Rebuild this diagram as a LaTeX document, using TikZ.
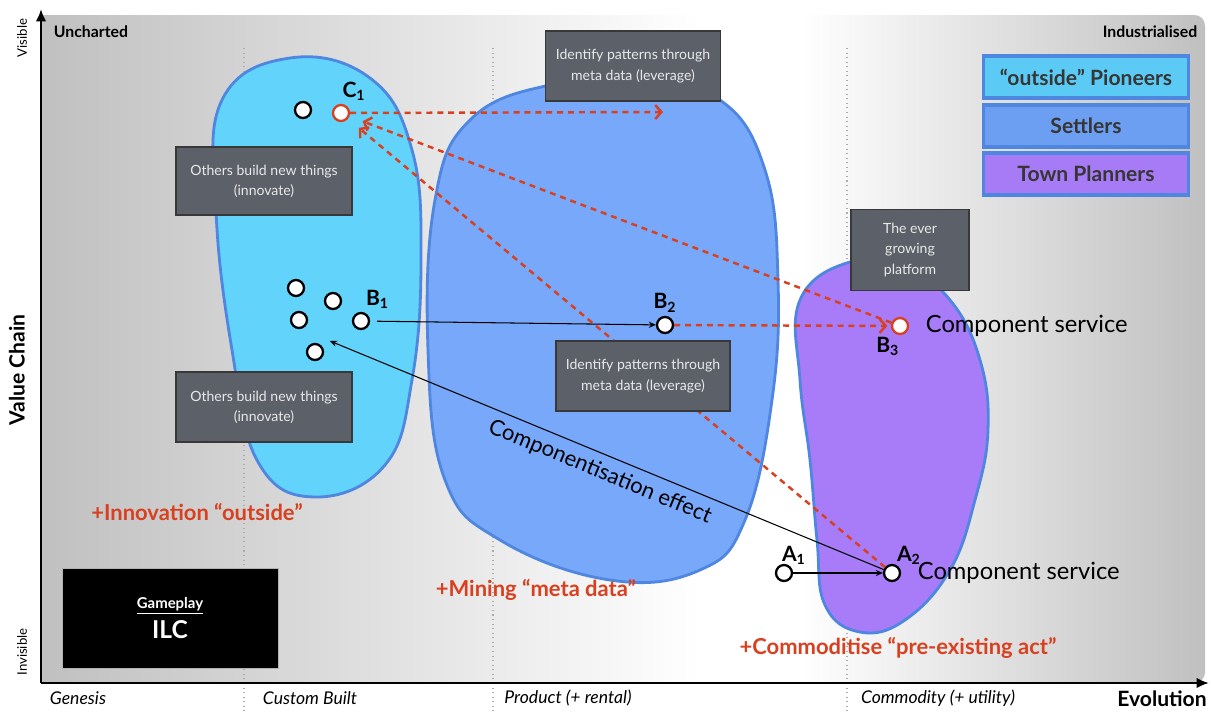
\documentclass[tikz,border=0pt]{standalone}
\usepackage{fontspec}
\setmainfont{Lato}
\usepackage{tikz}
\usetikzlibrary{arrows.meta, positioning, shapes.geometric}
\definecolor{pioneercyan}{HTML}{62D3FA}
\definecolor{settlerblue}{HTML}{78A8FA}
\definecolor{plannerpurple}{HTML}{A87CF8}
\definecolor{legcyan}{HTML}{5BCBF5}
\definecolor{legblue}{HTML}{6C9EF2}
\definecolor{legpurple}{HTML}{A77BF5}
\definecolor{blobedge}{HTML}{4F86E0}
\definecolor{notegray}{HTML}{5C6068}
\definecolor{noteedge}{HTML}{383838}
\definecolor{notetext}{HTML}{E8E8E8}
\definecolor{mapred}{HTML}{D8401F}
\definecolor{bggray}{HTML}{C0C0C0}
\definecolor{legendtext}{HTML}{363636}

\begin{document}
\begin{tikzpicture}[
  x=0.02cm, y=-0.02cm,
  blob/.style={draw=blobedge, line width=1.6pt},
  note/.style={rectangle, draw=noteedge, fill=notegray, text=notetext, line width=0.8pt, align=center, font=\fontsize{8}{11.5}\selectfont},
  legend/.style={rectangle, draw=blobedge, line width=1.8pt, text=legendtext, minimum width=4.1cm, minimum height=0.84cm, font=\fontsize{12}{14}\selectfont\bfseries},
  pt/.style={circle, draw=black, fill=white, line width=1.3pt, minimum size=0.32cm, inner sep=0pt},
  redpt/.style={pt, draw=mapred},
  ptlabel/.style={inner sep=1pt, font=\fontsize{12}{14}\selectfont\bfseries},
  service/.style={font=\fontsize{13.5}{15}\selectfont},
  redtext/.style={text=mapred, font=\fontsize{12.5}{14}\selectfont\bfseries},
  stagelabel/.style={font=\fontsize{10}{12}\selectfont\itshape},
  flow/.style={->, >={Stealth[length=4pt, width=3.5pt]}, line width=0.6pt},
  reddash/.style={->, >={Straight Barb[length=3.5pt, width=8pt]}, draw=mapred, line width=1.4pt, dash pattern=on 3.4pt off 2.8pt}
]
\useasboundingbox (0,0) rectangle (1211,711);

% map background
\shade[left color=bggray, right color=white] (41,15) rectangle (700,683);
\fill[white] (699,15) rectangle (801,683);
\shade[left color=white, right color=bggray, rounded corners=6pt] (800,15) rectangle (1205,683);

% stage separators
\foreach \xs in {244,493,847}
  \draw[gray!65, dotted, line width=0.6pt] (\xs,48) -- (\xs,711);

% axes
\draw[line width=1.6pt, -{Latex[length=7pt, width=6pt]}] (41,683) -- (41,9);
\draw[line width=1.6pt, -{Latex[length=7pt, width=6pt]}] (41,683) -- (1209,683);
\node[rotate=90, font=\fontsize{7.5}{9}\selectfont] (visible) at (22,38) {Visible};
\node[rotate=90, font=\fontsize{7.5}{9}\selectfont] (invisible) at (22,652) {Invisible};
\node[rotate=90, font=\fontsize{12}{14}\selectfont\bfseries] (chain) at (17,370) {Value Chain};
\node[font=\fontsize{9}{10}\selectfont\bfseries] (uncharted) at (91,32) {Uncharted};
\node[font=\fontsize{9}{10}\selectfont\bfseries] (industrial) at (1150,32) {Industrialised};
\node[stagelabel] (genesis) at (78,698) {Genesis};
\node[stagelabel] (custom) at (310,698) {Custom Built};
\node[stagelabel] (product) at (568,698) {Product (+ rental)};
\node[stagelabel] (commodity) at (938,698) {Commodity (+ utility)};
\node[font=\fontsize{12}{14}\selectfont\bfseries] (evolution) at (1162,699) {Evolution};

% pioneers, settlers, town planners
\draw[blob, fill=pioneercyan] plot[smooth cycle, tension=0.7] coordinates
  {(290,58) (370,78) (412,150) (421,260) (412,380) (385,465) (315,497) (258,462) (232,350) (216,210) (222,100)};
\draw[blob, fill=settlerblue] plot[smooth cycle, tension=0.7] coordinates
  {(550,85) (640,82) (720,100) (765,170) (778,280) (772,400) (745,520) (700,570) (610,580) (500,540) (445,480) (428,350) (435,200) (470,120)};
\draw[blob, fill=plannerpurple] plot[smooth cycle, tension=0.7] coordinates
  {(850,262) (905,268) (950,300) (980,360) (988,430) (975,500) (950,570) (905,620) (860,632) (825,605) (817,540) (810,460) (800,380) (800,300)};

% legend
\node[legend, fill=legcyan] (pioneers) at (1086,77) {“outside” Pioneers};
\node[legend, fill=legblue] (settlers) at (1086,126) {Settlers};
\node[legend, fill=legpurple] (planners) at (1086,174) {Town Planners};

% components
\node[pt] (c0) at (303,110) {};
\node[redpt] (c1) at (341,113) {};
\node[pt] (b1a) at (296,288) {};
\node[pt] (b1b) at (333,301) {};
\node[pt] (b1c) at (299,320) {};
\node[pt] (b1d) at (315,352) {};
\node[pt] (b1) at (361,321) {};
\node[pt] (b2) at (665,325) {};
\node[redpt] (b3) at (900,326) {};
\node[pt] (a1) at (784,573) {};
\node[pt] (a2) at (892,573) {};
\coordinate (cmpend) at (330,341);
\coordinate (c1end) at (663,112);

\node[ptlabel, above right=2pt and -4pt of c1] (c1lbl) {C\textsubscript{1}};
\node[ptlabel, above right=2pt and -2pt of b1] (b1lbl) {B\textsubscript{1}};
\node[ptlabel, above=1pt of b2] (b2lbl) {B\textsubscript{2}};
\node[ptlabel, below=0pt of b3, xshift=-7pt] (b3lbl) {B\textsubscript{3}};
\node[ptlabel, above right=0pt and -6pt of a1] (a1lbl) {A\textsubscript{1}};
\node[ptlabel, above right=0pt and -2pt of a2] (a2lbl) {A\textsubscript{2}};
\node[service, right=6pt of b3] (b3svc) {Component service};
\node[service, right=6pt of a2] (a2svc) {Component service};

% movements
\draw[reddash] (c1) -- (c1end);
\draw[reddash, shorten >=8pt] (b3) -- (c1);
\draw[reddash, shorten >=8pt] (a2) -- (c1);
\draw[reddash, shorten >=2pt] (b2) -- (b3);
\draw[flow, shorten <=4pt] (b1) -- (b2);
\draw[flow] (a1) -- (a2);
\draw[flow] (a2) -- (cmpend) node[midway, below=1pt, sloped, font=\fontsize{12.5}{14}\selectfont] {Componentisation effect};

% notes
\node[note, minimum width=3.52cm, minimum height=1.36cm] (innovate1) at (264,181) {Others build new things\\(innovate)};
\node[note, minimum width=3.52cm, minimum height=1.40cm] (innovate2) at (264,407) {Others build new things\\(innovate)};
\node[note, minimum width=3.50cm, minimum height=1.40cm] (leverage1) at (633,66) {Identify patterns through\\meta data (leverage)};
\node[note, minimum width=3.48cm, minimum height=1.40cm] (leverage2) at (643,376) {Identify patterns through\\meta data (leverage)};
\node[note, minimum width=2.36cm, minimum height=1.62cm] (platform) at (910,250) {The ever\\growing\\platform};

% gameplay
\node[rectangle, draw=gray!60, fill=black, text=white, align=center, minimum width=4.32cm, minimum height=2.0cm] (ilc) at (170,618)
  {{\fontsize{8.5}{10}\selectfont\bfseries\underline{Gameplay}}\\[2pt]{\fontsize{14}{15}\selectfont\bfseries ILC}};

% moves
\node[redtext] (innovation) at (197,512) {+Innovation “outside”};
\node[redtext] (mining) at (536,590) {+Mining “meta data”};
\node[redtext] (commoditise) at (898,648) {+Commoditise “pre-existing act”};
\end{tikzpicture}
\end{document}
